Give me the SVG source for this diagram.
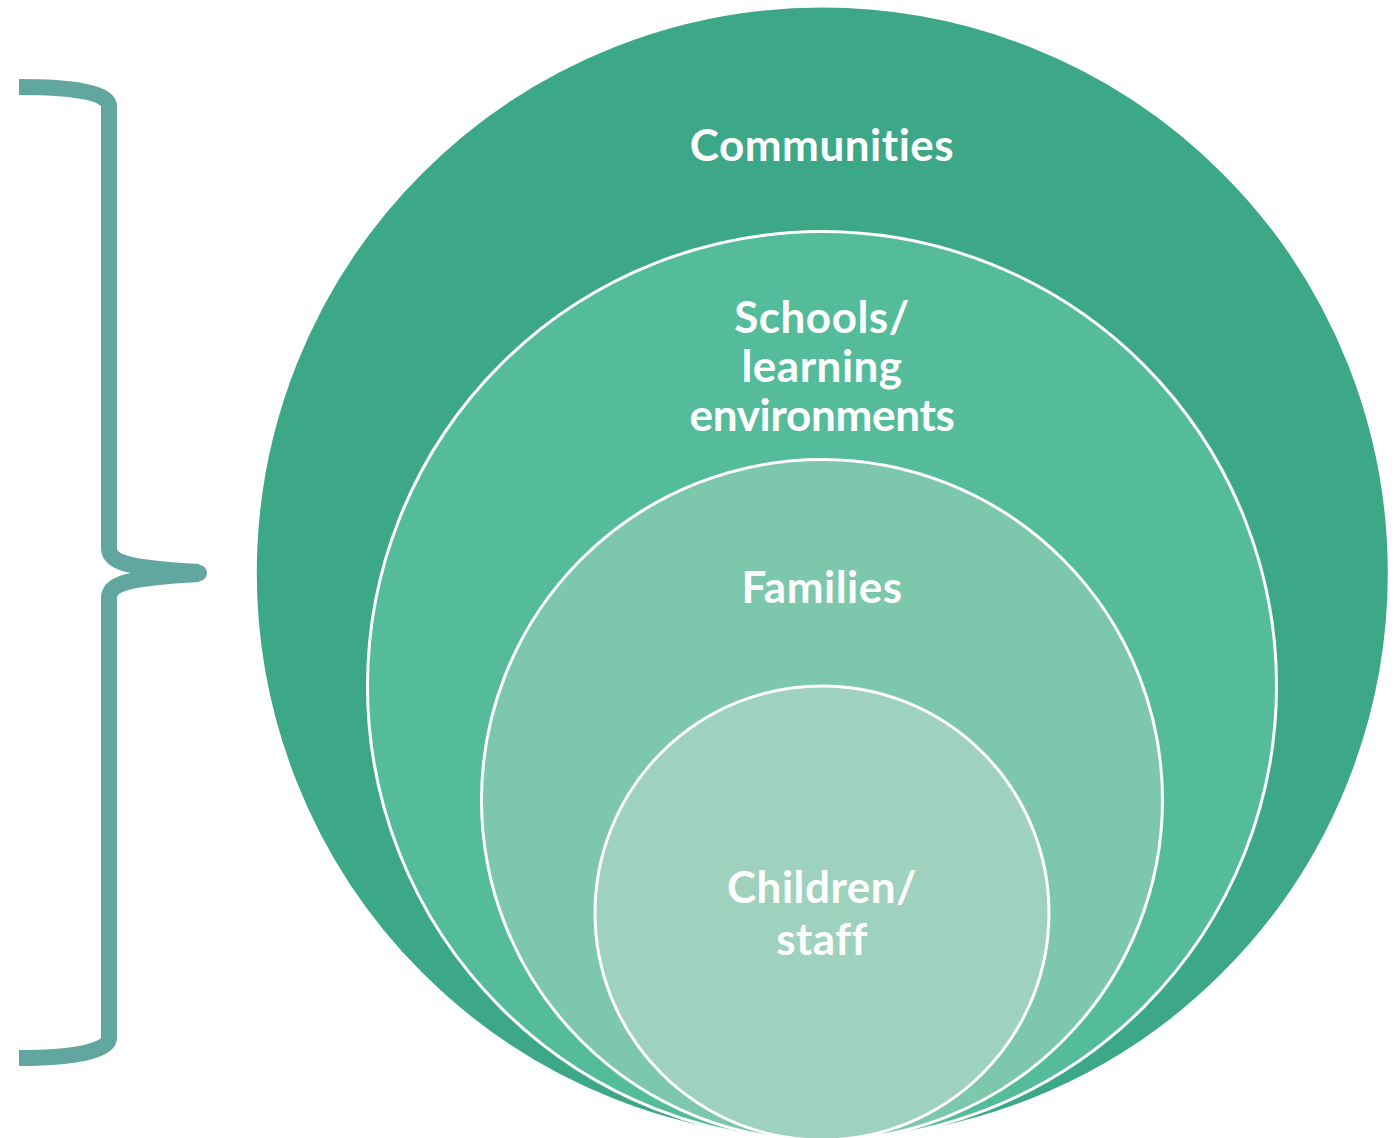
<svg xmlns="http://www.w3.org/2000/svg" width="1400" height="1138" viewBox="0 0 1400 1138">
<style>
.ring{stroke:#ffffff;stroke-width:3}
.lbl{font-family:Lato,"Open Sans","Liberation Sans",sans-serif;font-weight:bold;font-size:44px;fill:#ffffff;text-anchor:middle;font-variant-ligatures:none;letter-spacing:0.5px}
.brace{fill:none;stroke:#62a6a0;stroke-width:16;stroke-linejoin:round}
</style>
<rect width="1400" height="1138" fill="#ffffff"/>
<g id="communities">
<circle class="ring" cx="822.3" cy="573" r="567" fill="#3da887"/>
<text class="lbl" x="822" y="161">Communities</text>
</g>
<g id="schools">
<circle class="ring" cx="822" cy="686" r="454.5" fill="#55bc9b"/>
<text class="lbl" x="822" y="333">Schools/</text>
<text class="lbl" x="822" y="382">learning</text>
<text class="lbl" x="822" y="431" style="letter-spacing:-0.3px">environments</text>
</g>
<g id="families">
<circle class="ring" cx="822" cy="800" r="340.5" fill="#7dc7ac"/>
<text class="lbl" x="822" y="603">Families</text>
</g>
<g id="children">
<circle class="ring" cx="822" cy="913" r="227" fill="#9ed2be"/>
<text class="lbl" x="822" y="903">Children/</text>
<text class="lbl" x="822" y="955">staff</text>
</g>
<g id="connectors">
<path class="brace" d="M19,87 C70,87 109,92 109,106 L109,548 C109,562 125,568 199,572"/>
<path class="brace" d="M199,574 C125,578 109,584 109,598 L109,1038 C109,1052 70,1058 19,1058"/>
<circle cx="199" cy="573" r="8" fill="#62a6a0"/>
</g>
</svg>
